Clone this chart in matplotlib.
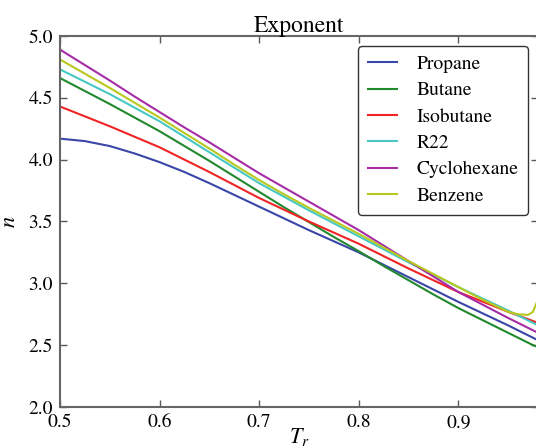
import matplotlib
matplotlib.use("Agg")
import matplotlib.pyplot as plt
import numpy as np

plt.rcParams['font.family'] = 'STIXGeneral'
plt.rcParams['mathtext.fontset'] = 'stix'

# reduced temperature grid
Tr = [0.500, 0.525, 0.550, 0.575, 0.600, 0.625, 0.650, 0.675, 0.700, 0.725,
      0.750, 0.775, 0.800, 0.825, 0.850, 0.875, 0.900, 0.925, 0.950,
      0.960, 0.970, 0.975, 0.980]

propane     = [4.17, 4.15, 4.11, 4.05, 3.98, 3.90, 3.81, 3.715, 3.62, 3.525,
               3.43, 3.34, 3.25, 3.15, 3.05, 2.95, 2.85, 2.755, 2.66,
               2.62, 2.58, 2.56, 2.54]
butane      = [4.66, 4.555, 4.45, 4.34, 4.23, 4.11, 3.99, 3.865, 3.74, 3.615,
               3.495, 3.375, 3.26, 3.14, 3.025, 2.91, 2.80, 2.70, 2.60,
               2.56, 2.52, 2.50, 2.485]
isobutane   = [4.43, 4.35, 4.27, 4.185, 4.10, 4.00, 3.90, 3.795, 3.69, 3.595,
               3.50, 3.41, 3.32, 3.22, 3.12, 3.025, 2.93, 2.85, 2.77,
               2.74, 2.71, 2.695, 2.68]
r22         = [4.73, 4.63, 4.53, 4.42, 4.31, 4.185, 4.06, 3.935, 3.81, 3.70,
               3.59, 3.485, 3.38, 3.275, 3.17, 3.07, 2.97, 2.875, 2.78,
               2.74, 2.70, 2.68, 2.66]
cyclohexane = [4.89, 4.765, 4.64, 4.51, 4.385, 4.26, 4.14, 4.015, 3.89, 3.775,
               3.66, 3.545, 3.43, 3.305, 3.18, 3.055, 2.93, 2.825, 2.72,
               2.68, 2.64, 2.62, 2.60]
benzene     = [4.81, 4.695, 4.58, 4.46, 4.34, 4.215, 4.09, 3.96, 3.835, 3.72,
               3.61, 3.505, 3.40, 3.29, 3.18, 3.075, 2.97, 2.865, 2.77,
               2.75, 2.745, 2.77, 2.87]

names = ['Propane', 'Butane', 'Isobutane', 'R22', 'Cyclohexane', 'Benzene']
series = [propane, butane, isobutane, r22, cyclohexane, benzene]
colors = ['#3a46a8', '#22882e', '#f02424', '#48c8c4', '#a62ca6', '#b8c81e']

fig = plt.figure(figsize=(5.36, 4.46), dpi=100)
ax = fig.add_axes([60/536, 39/446, 478/536, 371/446])

for name, vals, c in zip(names, series, colors):
    ax.plot(Tr, vals, color=c, lw=1.5, label=name)

ax.set_xlim(0.5, 0.98)
ax.set_ylim(2.0, 5.0)
ax.set_xticks([0.5, 0.6, 0.7, 0.8, 0.9])
ax.set_yticks(np.arange(2.0, 5.01, 0.5))
ax.tick_params(direction='in', top=True, right=True, length=5, width=1,
               color='0.35', labelsize=14, pad=5)
for s in ax.spines.values():
    s.set_color('0.4')
    s.set_linewidth(1.5)

ax.set_title('Exponent', fontsize=17, pad=3)
ax.set_xlabel('$T_r$', fontsize=16, labelpad=-4)
ax.set_ylabel('$n$', fontsize=16, labelpad=6)

leg = ax.legend(loc='upper right', fontsize=14, fancybox=True, framealpha=1,
                labelspacing=0.45, handlelength=1.5, handletextpad=1.0,
                borderpad=0.5, borderaxespad=0.5)
leg.get_frame().set_edgecolor('0.2')

plt.savefig('out.png', dpi=100)
